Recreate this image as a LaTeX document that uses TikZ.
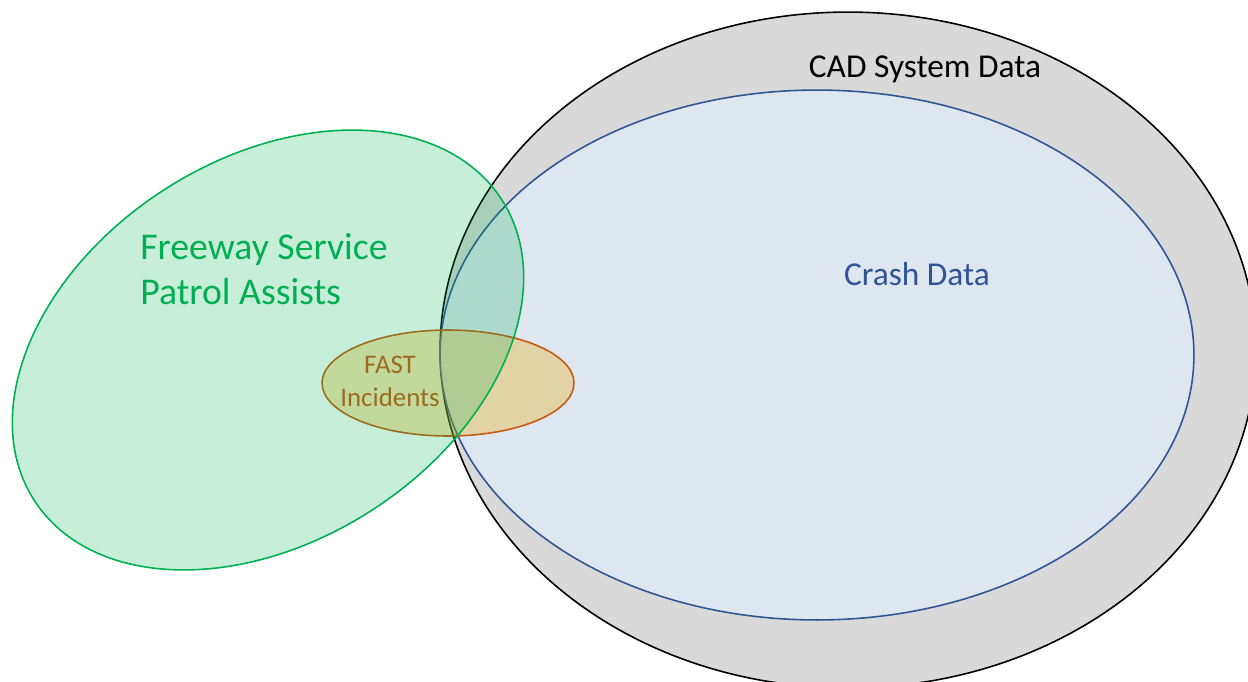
\documentclass[tikz,border=0pt]{standalone}
\usepackage{fontspec}
\setmainfont{Carlito}
\usetikzlibrary{shapes.geometric}

\definecolor{cadgray}{HTML}{D9D9D9}
\definecolor{crashfill}{HTML}{DEE6EF}
\definecolor{crashblue}{HTML}{2F5597}
\definecolor{fspgreen}{HTML}{00B050}
\definecolor{fastgold}{HTML}{EEA800}
\definecolor{fastline}{HTML}{C55A11}

\begin{document}
\begin{tikzpicture}[x=0.02cm,y=-0.02cm,
  dataset/.style={ellipse,inner sep=0pt,line width=0.9pt}]
\useasboundingbox (0,0) rectangle (1248,681);
\clip (0,0) rectangle (1248,681);

% outer sets
\node (cad) [dataset,draw=black,fill=cadgray,minimum width=16.32cm,minimum height=13.52cm] at (848,350) {};
\node (crash) [dataset,draw=crashblue,fill=crashfill,minimum width=15.08cm,minimum height=10.6cm] at (817,355) {};

% FAST, under the patrol set
\node (fast) [dataset,draw=fastline,fill=fastgold,fill opacity=0.3,minimum width=5.04cm,minimum height=2.12cm] at (448,383) {};
\node (fastlabel) [inner sep=0pt,align=center,text=fastline,font=\fontsize{15.3}{18.7}\selectfont] at (390,381) {FAST\\Incidents};

% patrol assists
\node (fsp) [dataset,draw=fspgreen,fill=fspgreen,fill opacity=0.22,rotate=32.7,minimum width=11.12cm,minimum height=7.64cm] at (268,350) {};
\node (fsplabel) [inner sep=0pt,anchor=west,align=left,text=fspgreen,font=\fontsize{21.5}{25.5}\selectfont] at (140,269) {Freeway Service\\Patrol Assists};

% labels
\node (cadlabel) [inner sep=0pt,anchor=base,font=\fontsize{19}{23}\selectfont] at (925,77) {CAD System Data};
\node (crashlabel) [inner sep=0pt,anchor=base,text=crashblue,font=\fontsize{19}{23}\selectfont] at (917,285) {Crash Data};
\end{tikzpicture}
\end{document}
